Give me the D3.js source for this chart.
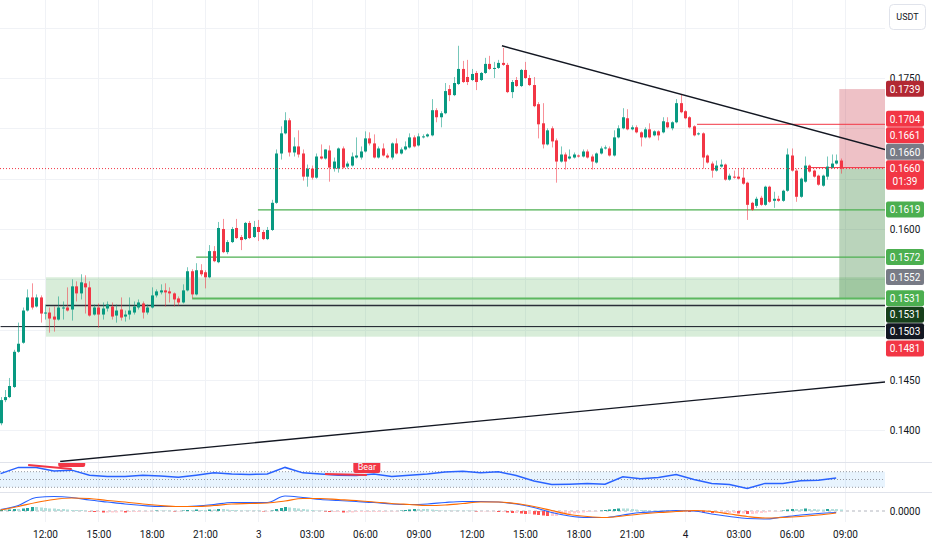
<!DOCTYPE html>
<html lang="en">
  <head>
    <meta charset="utf-8" />
    <script src="https://cdn.jsdelivr.net/npm/d3@7/dist/d3.min.js"></script>
    <title>USDT 15m</title>
    <style>
      body { margin: 0; background: #fff; }
      svg text { font-family: Roboto, "Liberation Sans", sans-serif; }
    </style>
  </head>
  <body>
    <div id="container"></div>
    <script>
      // 15 minute candles, first one opens 09:30 on the 2nd
      const open = [
        0.1407,0.1430,0.1433,0.1443,0.1478,0.1487,0.1519,0.1532,0.1523,0.1532,
        0.1516,0.1517,0.1513,0.1510,0.1521,0.1522,0.1520,0.1543,0.1536,0.1546,
        0.1542,0.1515,0.1522,0.1515,0.1521,0.1523,0.1514,0.1520,0.1513,0.1515,
        0.1517,0.1522,0.1526,0.1517,0.1522,0.1534,0.1537,0.1539,0.1538,0.1536,
        0.1531,0.1527,0.1539,0.1558,0.1535,0.1559,0.1557,0.1552,0.1578,0.1567,
        0.1600,0.1577,0.1587,0.1601,0.1592,0.1590,0.1606,0.1592,0.1602,0.1597,
        0.1590,0.1599,0.1626,0.1675,0.1695,0.1708,0.1676,0.1682,0.1675,0.1652,
        0.1660,0.1651,0.1672,0.1670,0.1678,0.1660,0.1660,0.1680,0.1662,0.1663,
        0.1671,0.1671,0.1677,0.1690,0.1685,0.1671,0.1680,0.1673,0.1671,0.1685,
        0.1675,0.1679,0.1681,0.1691,0.1683,0.1691,0.1692,0.1693,0.1718,0.1711,
        0.1715,0.1739,0.1733,0.1744,0.1759,0.1751,0.1748,0.1755,0.1748,0.1755,
        0.1764,0.1759,0.1760,0.1765,0.1763,0.1736,0.1748,0.1742,0.1758,0.1750,
        0.1743,0.1724,0.1705,0.1684,0.1700,0.1688,0.1667,0.1674,0.1670,0.1671,
        0.1673,0.1672,0.1677,0.1672,0.1666,0.1675,0.1680,0.1680,0.1673,0.1691,
        0.1700,0.1710,0.1699,0.1701,0.1696,0.1691,0.1699,0.1693,0.1697,0.1696,
        0.1706,0.1700,0.1706,0.1725,0.1717,0.1711,0.1702,0.1694,0.1695,0.1673,
        0.1665,0.1658,0.1662,0.1664,0.1649,0.1652,0.1652,0.1651,0.1646,0.1626,
        0.1623,0.1631,0.1624,0.1642,0.1628,0.1630,0.1628,0.1638,0.1673,0.1658,
        0.1632,0.1647,0.1663,0.1658,0.1653,0.1643,0.1652,0.1661,0.1665,0.1668
      ];
      const high = [
        0.1433,0.1440,0.1452,0.1480,0.1507,0.1522,0.1540,0.1546,0.1535,0.1534,
        0.1525,0.1522,0.1523,0.1533,0.1528,0.1542,0.1550,0.1548,0.1555,0.1554,
        0.1548,0.1525,0.1526,0.1527,0.1528,0.1527,0.1525,0.1532,0.1519,0.1532,
        0.1528,0.1530,0.1528,0.1525,0.1542,0.1540,0.1545,0.1546,0.1542,0.1537,
        0.1533,0.1545,0.1562,0.1560,0.1566,0.1565,0.1559,0.1584,0.1583,0.1607,
        0.1610,0.1589,0.1602,0.1610,0.1594,0.1607,0.1608,0.1608,0.1609,0.1599,
        0.1602,0.1629,0.1679,0.1702,0.1716,0.1710,0.1691,0.1698,0.1679,0.1664,
        0.1663,0.1675,0.1684,0.1679,0.1683,0.1671,0.1681,0.1682,0.1667,0.1676,
        0.1691,0.1682,0.1697,0.1696,0.1694,0.1682,0.1685,0.1675,0.1686,0.1690,
        0.1681,0.1687,0.1695,0.1693,0.1695,0.1694,0.1695,0.1729,0.1720,0.1717,
        0.1745,0.1743,0.1751,0.1782,0.1767,0.1768,0.1759,0.1757,0.1756,0.1770,
        0.1772,0.1766,0.1768,0.1780,0.1765,0.1748,0.1751,0.1759,0.1766,0.1753,
        0.1751,0.1726,0.1725,0.1700,0.1702,0.1690,0.1682,0.1676,0.1679,0.1676,
        0.1674,0.1679,0.1679,0.1674,0.1676,0.1682,0.1683,0.1682,0.1698,0.1703,
        0.1720,0.1719,0.1703,0.1703,0.1697,0.1701,0.1705,0.1698,0.1698,0.1711,
        0.1711,0.1707,0.1729,0.1734,0.1718,0.1712,0.1703,0.1696,0.1696,0.1674,
        0.1667,0.1668,0.1669,0.1665,0.1655,0.1658,0.1660,0.1661,0.1647,0.1627,
        0.1632,0.1633,0.1643,0.1643,0.1637,0.1633,0.1639,0.1680,0.1680,0.1660,
        0.1651,0.1672,0.1664,0.1659,0.1654,0.1654,0.1672,0.1674,0.1674,0.1670
      ];
      const low = [
        0.1405,0.1428,0.1432,0.1442,0.1477,0.1486,0.1518,0.1520,0.1522,0.1507,
        0.1510,0.1497,0.1498,0.1509,0.1510,0.1518,0.1509,0.1528,0.1530,0.1516,
        0.1513,0.1514,0.1502,0.1510,0.1518,0.1510,0.1507,0.1509,0.1508,0.1510,
        0.1515,0.1520,0.1511,0.1515,0.1521,0.1532,0.1535,0.1523,0.1527,0.1523,
        0.1524,0.1526,0.1538,0.1531,0.1534,0.1553,0.1541,0.1551,0.1567,0.1566,
        0.1576,0.1575,0.1586,0.1590,0.1579,0.1589,0.1590,0.1591,0.1588,0.1589,
        0.1589,0.1598,0.1625,0.1669,0.1694,0.1672,0.1672,0.1671,0.1648,0.1642,
        0.1649,0.1650,0.1669,0.1669,0.1647,0.1657,0.1656,0.1660,0.1660,0.1662,
        0.1670,0.1669,0.1676,0.1683,0.1670,0.1670,0.1672,0.1670,0.1669,0.1674,
        0.1674,0.1678,0.1680,0.1681,0.1682,0.1690,0.1691,0.1692,0.1706,0.1701,
        0.1714,0.1727,0.1732,0.1743,0.1745,0.1743,0.1747,0.1738,0.1747,0.1754,
        0.1758,0.1750,0.1759,0.1762,0.1735,0.1730,0.1741,0.1741,0.1749,0.1742,
        0.1721,0.1690,0.1680,0.1683,0.1681,0.1646,0.1666,0.1659,0.1669,0.1670,
        0.1671,0.1671,0.1670,0.1659,0.1665,0.1674,0.1679,0.1672,0.1672,0.1690,
        0.1699,0.1698,0.1698,0.1695,0.1682,0.1690,0.1690,0.1692,0.1688,0.1695,
        0.1700,0.1698,0.1705,0.1715,0.1709,0.1700,0.1692,0.1693,0.1660,0.1665,
        0.1651,0.1657,0.1661,0.1648,0.1648,0.1650,0.1649,0.1644,0.1609,0.1618,
        0.1621,0.1623,0.1623,0.1626,0.1621,0.1627,0.1627,0.1637,0.1657,0.1627,
        0.1631,0.1646,0.1656,0.1651,0.1643,0.1642,0.1649,0.1660,0.1664,0.1655
      ];
      const close = [
        0.1430,0.1433,0.1444,0.1478,0.1486,0.1519,0.1532,0.1522,0.1532,0.1516,
        0.1517,0.1511,0.1510,0.1522,0.1522,0.1519,0.1543,0.1536,0.1547,0.1542,
        0.1514,0.1522,0.1515,0.1521,0.1525,0.1513,0.1519,0.1512,0.1515,0.1519,
        0.1523,0.1527,0.1517,0.1522,0.1534,0.1538,0.1539,0.1537,0.1536,0.1530,
        0.1527,0.1539,0.1558,0.1535,0.1559,0.1555,0.1552,0.1578,0.1568,0.1601,
        0.1577,0.1587,0.1600,0.1591,0.1589,0.1606,0.1591,0.1602,0.1597,0.1590,
        0.1599,0.1626,0.1675,0.1695,0.1708,0.1676,0.1682,0.1674,0.1652,0.1660,
        0.1651,0.1672,0.1670,0.1679,0.1661,0.1667,0.1680,0.1661,0.1665,0.1672,
        0.1673,0.1677,0.1690,0.1685,0.1671,0.1680,0.1673,0.1671,0.1685,0.1675,
        0.1679,0.1682,0.1691,0.1682,0.1692,0.1692,0.1694,0.1718,0.1711,0.1715,
        0.1737,0.1733,0.1745,0.1759,0.1746,0.1746,0.1754,0.1746,0.1755,0.1764,
        0.1759,0.1760,0.1765,0.1763,0.1736,0.1746,0.1742,0.1758,0.1750,0.1743,
        0.1722,0.1704,0.1684,0.1698,0.1687,0.1667,0.1674,0.1667,0.1672,0.1674,
        0.1672,0.1677,0.1671,0.1667,0.1675,0.1680,0.1681,0.1673,0.1691,0.1700,
        0.1711,0.1699,0.1701,0.1696,0.1691,0.1699,0.1691,0.1697,0.1693,0.1707,
        0.1701,0.1706,0.1725,0.1716,0.1710,0.1701,0.1693,0.1695,0.1671,0.1666,
        0.1658,0.1663,0.1664,0.1649,0.1653,0.1651,0.1650,0.1645,0.1624,0.1619,
        0.1630,0.1624,0.1642,0.1627,0.1630,0.1628,0.1638,0.1674,0.1658,0.1632,
        0.1650,0.1663,0.1657,0.1652,0.1644,0.1653,0.1662,0.1665,0.1668,0.1660
      ];

      // RSI, MACD and signal read once an hour (every 4th candle)
      const rsi = [
        65,81,81,72,74,61,58,58,61,59,56,61,67,64,63,64,
        81,67,64,61,60,64,58,61,64,69,71,67,70,60,46,37,
        38,40,38,57,52,55,63,50,40,37,27,40,40,47,48,54
      ];
      const macd = [
        0.00003,0.00011,0.00027,0.00029,0.00027,0.00022,0.00018,0.00014,0.00011,0.00009,0.00009,0.0001,
        0.00013,0.00017,0.00017,0.00017,0.0003,0.00027,0.00023,0.00021,0.00019,0.00017,0.00014,0.00013,
        0.00014,0.00017,0.00019,0.00019,0.00018,0.00014,0.00007,-0.00003,-0.0001,-0.00013,-0.00013,-0.00008,
        -0.00003,-0.00001,0.00001,0,-0.00006,-0.00011,-0.00015,-0.00016,-0.00012,-0.00008,-0.00005,-0.00003
      ];
      const signal = [
        0.00002,0.00009,0.00017,0.00023,0.00026,0.00025,0.00021,0.00018,0.00014,0.00011,0.00009,0.00009,
        0.00011,0.00014,0.00015,0.00016,0.0002,0.00025,0.00025,0.00023,0.00021,0.00018,0.00015,0.00013,
        0.00011,0.00012,0.00015,0.00018,0.00018,0.00015,0.00009,0.00001,-0.00007,-0.00011,-0.00013,-0.0001,
        -0.00006,-0.00003,-0.00001,0.00001,-0.00001,-0.00006,-0.00011,-0.00014,-0.00013,-0.00011,-0.00008,-0.00004
      ];
      // MACD histogram, one value per candle
      const hist = [
        0.00002,0.00002,0.00003,0.00004,0.00004,0.00005,0.00006,0.00008,0.00008,0.00007,
        0.00006,0.00005,0.00005,0.00004,0.00004,0.00003,0.00002,0.00002,0.00002,0.00001,
        -0.00001,-0.00002,-0.00002,-0.00003,-0.00003,-0.00003,-0.00003,-0.00002,-0.00003,-0.00002,
        -0.00002,-0.00002,-0.00001,-0.00001,-0.00001,0.00001,0.00001,0.00001,0.00001,-0.00001,
        -0.00001,0.00001,0.00002,0.00002,0.00003,0.00002,0.00002,0.00003,0.00003,0.00004,
        0.00004,0.00003,0.00002,0.00002,0.00001,0.00001,0.00001,0.00001,0.00001,-0.00001,
        -0.00001,0.00001,0.00004,0.00006,0.00008,0.00007,0.00006,0.00005,0.00004,0.00003,
        0.00002,0.00001,0.00001,-0.00001,-0.00002,-0.00002,-0.00002,-0.00003,-0.00003,-0.00003,
        -0.00002,-0.00002,-0.00002,-0.00002,-0.00002,-0.00002,-0.00002,-0.00001,-0.00001,-0.00001,
        0.00001,0.00002,0.00003,0.00004,0.00004,0.00004,0.00004,0.00003,0.00002,0.00001,
        0.00001,0.00001,0.00001,0.00001,0.00001,0.00001,0.00001,-0.00001,-0.00001,-0.00001,
        -0.00001,-0.00001,-0.00002,-0.00002,-0.00003,-0.00004,-0.00004,-0.00005,-0.00006,-0.00006,
        -0.00007,-0.00008,-0.00009,-0.0001,-0.0001,-0.0001,-0.00008,-0.00007,-0.00006,-0.00005,
        -0.00004,-0.00003,-0.00002,-0.00001,-0.00001,0.00001,0.00002,0.00003,0.00004,0.00005,
        0.00005,0.00005,0.00004,0.00003,0.00002,0.00002,0.00001,0.00001,0.00001,0.00001,
        0.00001,0.00001,0.00001,-0.00001,-0.00001,-0.00002,-0.00002,-0.00002,-0.00003,-0.00003,
        -0.00004,-0.00004,-0.00004,-0.00004,-0.00004,-0.00004,-0.00005,-0.00005,-0.00006,-0.00006,
        -0.00005,-0.00004,-0.00003,-0.00002,-0.00001,-0.00001,0.00001,0.00003,0.00004,0.00004,
        0.00004,0.00005,0.00004,0.00004,0.00003,0.00003,0.00004,0.00004,0.00004,0.00003
      ];

      const priceTicks = [0.14, 0.145, 0.15, 0.155, 0.16, 0.165, 0.17, 0.175, 0.18];

      // drawings: candle index where they start, price level
      const levels = [
        { from: 0, price: 0.1503, kind: "black" },
        { from: 10.2, price: 0.1524, kind: "dark" },
        { from: 43.1, price: 0.1531, kind: "greenWide" },
        { from: 44, price: 0.1572, kind: "green" },
        { from: 57.9, price: 0.1619, kind: "green" },
        { from: 156.7, price: 0.1704, kind: "red" },
        { from: 182.1, price: 0.1661, kind: "red" }
      ];
      const zone = { from: 10.2, top: 0.1552, bottom: 0.1493 };
      const trendDown = [[112.8, 0.1782], [199, 0.1679]];
      const trendUp = [[13.4, 0.1369], [199, 0.1448]];
      const position = { from: 188.7, stop: 0.1739, entry: 0.166, target: 0.1531 };
      const bearDivs = [
        { i0: 6.2, r0: 87, i1: 16, r1: 77 },
        { i0: 73, r0: 64, i1: 82.4, r1: 61.5 }
      ];

      // right scale labels, top to bottom
      const priceLabels = [
        { value: 0.1739, kind: "stop" },
        { value: 0.1704, kind: "red" },
        { value: 0.1661, kind: "red" },
        { value: 0.166, kind: "gray" },
        { value: 0.166, kind: "last", sub: "01:39" },
        { value: 0.1619, kind: "green" },
        { value: 0.1572, kind: "green" },
        { value: 0.1552, kind: "gray" },
        { value: 0.1531, kind: "green" },
        { value: 0.1531, kind: "darkgreen" },
        { value: 0.1503, kind: "black" },
        { value: 0.1481, kind: "red" }
      ];

      const up = "#089981", down = "#f23645";
      const labelColor = { stop: "#b22833", red: "#f23645", gray: "#787b86", last: "#f23645", green: "#4caf50", darkgreen: "#17401b", black: "#131722" };
      const levelStyle = {
        black: ["#131722", 1], dark: ["#2a2e39", 1.5], greenWide: ["#5cb860", 2],
        green: ["#4caf50", 1.2], red: ["#f23645", 1]
      };

      const width = 932, height = 550;
      const plotW = 885;
      const mainBottom = 462, rsiTop = 462, rsiBottom = 492, macdTop = 492, macdBottom = 522;

      const svg = d3.select("#container").append("svg").attr("width", width).attr("height", height)
        .style("display", "block");

      const t0 = Date.UTC(2025, 5, 2, 9, 30);
      const barMs = 15 * 60 * 1000;
      const timeAt = (i) => new Date(t0 + i * barMs);
      const n = close.length;
      const x = d3.scaleUtc().domain([timeAt(0), timeAt(n - 1)]).range([0.6, 840.6]);
      const xi = (i) => x(timeAt(i));
      const y = d3.scaleLinear().domain([0.14, 0.175]).range([430.3, 78]);
      const yRsi = d3.scaleLinear().domain([0, 100]).range([499, 460]);
      const yMacd = d3.scaleLinear().domain([-0.00022, 0.00038]).range([macdBottom, macdTop]);
      const hourIdx = d3.range(0, n, 4);

      const defs = svg.append("defs");
      defs.append("clipPath").attr("id", "clipMain").append("rect").attr("width", plotW).attr("height", mainBottom);
      defs.append("clipPath").attr("id", "clipRsi").append("rect").attr("y", rsiTop).attr("width", plotW).attr("height", rsiBottom - rsiTop);
      defs.append("clipPath").attr("id", "clipMacd").append("rect").attr("y", macdTop).attr("width", plotW).attr("height", macdBottom - macdTop);

      // grid
      const timeTicks = d3.utcHour.every(3).range(timeAt(0), timeAt(n + 1));
      const grid = svg.append("g");
      grid.selectAll("line.v").data(timeTicks).join("line")
        .attr("x1", (d) => Math.round(x(d)) + 0.5).attr("x2", (d) => Math.round(x(d)) + 0.5)
        .attr("y1", 0).attr("y2", macdBottom).attr("stroke", "#f0f2f6");
      grid.selectAll("line.h").data(priceTicks).join("line")
        .attr("x1", 0).attr("x2", plotW)
        .attr("y1", (d) => Math.round(y(d)) + 0.5).attr("y2", (d) => Math.round(y(d)) + 0.5)
        .attr("stroke", "#f0f2f6");

      // main pane
      const gMain = svg.append("g").attr("clip-path", "url(#clipMain)");

      gMain.append("rect")
        .attr("x", xi(zone.from)).attr("width", plotW - xi(zone.from))
        .attr("y", y(zone.top)).attr("height", y(zone.bottom) - y(zone.top))
        .attr("fill", "#4caf50").attr("fill-opacity", 0.22);

      const px0 = xi(position.from);
      gMain.append("rect")
        .attr("x", px0).attr("width", plotW - px0)
        .attr("y", y(position.stop)).attr("height", y(position.entry) - y(position.stop))
        .attr("fill", "rgba(200,50,65,0.3)");
      gMain.append("rect")
        .attr("x", px0).attr("width", plotW - px0)
        .attr("y", y(position.entry)).attr("height", y(position.target) - y(position.entry))
        .attr("fill", "rgba(46,125,50,0.33)");

      gMain.selectAll("line.level").data(levels).join("line")
        .attr("x1", (d) => xi(d.from)).attr("x2", plotW)
        .attr("y1", (d) => y(d.price)).attr("y2", (d) => y(d.price))
        .attr("stroke", (d) => levelStyle[d.kind][0])
        .attr("stroke-width", (d) => levelStyle[d.kind][1]);

      const candles = close.map((c, i) => ({ t: timeAt(i), o: open[i], h: high[i], l: low[i], c }));
      gMain.selectAll("line.wick").data(candles).join("line")
        .attr("x1", (d) => Math.round(x(d.t)) + 0.5).attr("x2", (d) => Math.round(x(d.t)) + 0.5)
        .attr("y1", (d) => y(d.h)).attr("y2", (d) => y(d.l))
        .attr("stroke", (d) => (d.c >= d.o ? up : down)).attr("stroke-opacity", 0.55);
      gMain.selectAll("rect.body").data(candles).join("rect")
        .attr("x", (d) => Math.round(x(d.t)) - 1).attr("width", 3)
        .attr("y", (d) => y(Math.max(d.o, d.c)))
        .attr("height", (d) => Math.max(1, Math.abs(y(d.o) - y(d.c))))
        .attr("fill", (d) => (d.c >= d.o ? up : down));

      const tl = d3.line().x((d) => xi(d[0])).y((d) => y(d[1]));
      [trendDown, trendUp].forEach((t) => {
        gMain.append("path").attr("d", tl(t)).attr("fill", "none")
          .attr("stroke", "#131722").attr("stroke-width", 1.4);
      });

      const last = close[n - 1];
      gMain.append("line").attr("x1", 0).attr("x2", plotW)
        .attr("y1", y(last)).attr("y2", y(last))
        .attr("stroke", down).attr("stroke-dasharray", "1,2");

      // RSI pane
      const gRsi = svg.append("g").attr("clip-path", "url(#clipRsi)");
      gRsi.append("rect").attr("x", 0).attr("width", plotW)
        .attr("y", yRsi(70)).attr("height", yRsi(30) - yRsi(70))
        .attr("fill", "#2196f3").attr("fill-opacity", 0.1);
      gRsi.selectAll("line.band").data([70, 50, 30]).join("line")
        .attr("x1", 0).attr("x2", plotW).attr("y1", (d) => yRsi(d)).attr("y2", (d) => yRsi(d))
        .attr("stroke", "#9598a1").attr("stroke-dasharray", "1,2");
      gRsi.append("path").datum(rsi)
        .attr("d", d3.line().x((d, k) => xi(hourIdx[k])).y((d) => yRsi(d)))
        .attr("fill", "none").attr("stroke", "#2962ff").attr("stroke-width", 1.5);
      bearDivs.forEach((b) => {
        gRsi.append("line")
          .attr("x1", xi(b.i0)).attr("y1", yRsi(b.r0)).attr("x2", xi(b.i1)).attr("y2", yRsi(b.r1))
          .attr("stroke", down).attr("stroke-width", 2);
        const bx = xi(b.i1), by = yRsi(b.r1) - 2;
        gRsi.append("rect").attr("x", bx - 13.5).attr("y", by - 13).attr("width", 27).attr("height", 13)
          .attr("rx", 2).attr("fill", down);
        gRsi.append("text").attr("x", bx).attr("y", by - 3.5).attr("text-anchor", "middle")
          .attr("font-size", 9).attr("fill", "#fff").text("Bear");
      });

      // MACD pane
      const gMacd = svg.append("g").attr("clip-path", "url(#clipMacd)");
      gMacd.append("line").attr("x1", 0).attr("x2", plotW)
        .attr("y1", yMacd(0)).attr("y2", yMacd(0))
        .attr("stroke", "#b2b5be").attr("stroke-dasharray", "3,3");
      const histColor = (h, prev) =>
        h >= 0 ? (h > prev ? "#26a69a" : "#b2dfdb") : h < prev ? "#ff5252" : "#ffcdd2";
      gMacd.selectAll("rect.hist").data(hist).join("rect")
        .attr("x", (d, i) => Math.round(xi(i)) - 1).attr("width", 3)
        .attr("y", (d) => Math.min(yMacd(d), yMacd(0)))
        .attr("height", (d) => Math.abs(yMacd(d) - yMacd(0)))
        .attr("fill", (d, i) => histColor(d, i ? hist[i - 1] : 0));
      const ml = d3.line().x((d, k) => xi(hourIdx[k])).y((d) => yMacd(d)).curve(d3.curveMonotoneX);
      gMacd.append("path").datum(macd).attr("d", ml).attr("fill", "none").attr("stroke", "#2962ff").attr("stroke-width", 1.2);
      gMacd.append("path").datum(signal).attr("d", ml).attr("fill", "none").attr("stroke", "#ff6d00").attr("stroke-width", 1.2);

      // pane separators
      svg.selectAll("line.sep").data([rsiTop, macdTop]).join("line")
        .attr("x1", 0).attr("x2", width).attr("y1", (d) => d + 0.5).attr("y2", (d) => d + 0.5)
        .attr("stroke", "#e0e3eb");

      // time axis
      const fmtTime = d3.utcFormat("%H:%M");
      svg.append("g").attr("transform", `translate(0,${531})`)
        .call(d3.axisBottom(x).tickValues(timeTicks).tickSize(0).tickPadding(0)
          .tickFormat((d) => (d.getUTCHours() === 0 ? String(d.getUTCDate()) : fmtTime(d))))
        .call((g) => g.select(".domain").remove())
        .call((g) => g.selectAll("text").attr("font-size", 10).attr("fill", "#131722")
          .attr("font-family", "Roboto, 'Liberation Sans', sans-serif"));

      // price scale labels
      const fmt = d3.format(".4f");
      const lh = 16.5;
      priceLabels.forEach((d) => (d.cy = y(d.value)));
      const ci = priceLabels.findIndex((d) => d.kind === "last");
      const cur = priceLabels[ci];
      cur.top = cur.cy - lh / 2;
      cur.bottom = cur.top + 30;
      let edge = cur.top;
      for (let k = ci - 1; k >= 0; k--) {
        const d = priceLabels[k];
        d.cy = Math.min(d.cy, edge - lh / 2);
        d.top = d.cy - lh / 2; d.bottom = d.cy + lh / 2;
        edge = d.top;
      }
      edge = cur.bottom;
      for (let k = ci + 1; k < priceLabels.length; k++) {
        const d = priceLabels[k];
        d.cy = Math.max(d.cy, edge + lh / 2);
        d.top = d.cy - lh / 2; d.bottom = d.cy + lh / 2;
        edge = d.bottom;
      }

      const usdtBox = { top: 4, bottom: 29 };
      const shownTicks = priceTicks.filter((v) => {
        const ty = y(v);
        if (ty < usdtBox.bottom + 2) return false;
        return !priceLabels.some((d) => ty > d.top - 2 && ty < d.bottom + 2);
      });
      svg.append("g").attr("transform", `translate(${plotW},0)`)
        .call(d3.axisRight(y).tickValues(shownTicks).tickFormat(fmt).tickSize(0).tickPadding(20))
        .call((g) => g.select(".domain").remove())
        .call((g) => g.selectAll("text").attr("text-anchor", "middle").attr("font-size", 10)
          .attr("fill", "#131722").attr("font-family", "Roboto, 'Liberation Sans', sans-serif"));

      const gLab = svg.append("g");
      priceLabels.forEach((d) => {
        gLab.append("rect").attr("x", 886).attr("y", d.top).attr("width", 38)
          .attr("height", d.bottom - d.top - 0.5).attr("rx", 2).attr("fill", labelColor[d.kind]);
        gLab.append("text").attr("x", 905).attr("y", d.cy).attr("dy", "0.35em")
          .attr("text-anchor", "middle").attr("font-size", 10).attr("fill", "#fff").text(fmt(d.value));
        if (d.sub) {
          gLab.append("text").attr("x", 905).attr("y", d.cy + 13).attr("dy", "0.35em")
            .attr("text-anchor", "middle").attr("font-size", 10).attr("fill", "#fff").text(d.sub);
        }
      });

      svg.append("text").attr("x", 905).attr("y", yMacd(0)).attr("dy", "0.35em")
        .attr("text-anchor", "middle").attr("font-size", 10).attr("fill", "#131722").text(fmt(0));

      svg.append("rect").attr("x", 889.5).attr("y", usdtBox.top + 0.5).attr("width", 36).attr("height", usdtBox.bottom - usdtBox.top)
        .attr("rx", 4).attr("fill", "#fff").attr("stroke", "#e0e3eb");
      svg.append("text").attr("x", 907.5).attr("y", (usdtBox.top + usdtBox.bottom) / 2 + 0.5).attr("dy", "0.35em")
        .attr("text-anchor", "middle").attr("font-size", 9).attr("fill", "#131722").text("USDT");
    </script>
  </body>
</html>
